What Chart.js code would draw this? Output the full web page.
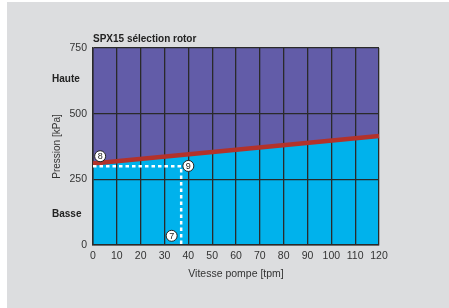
<!DOCTYPE html>
<html>
<head>
<meta charset="utf-8">
<script src="https://cdn.jsdelivr.net/npm/chart.js@4"></script>
<style>
  body { margin: 0; background: #fff; width: 449px; height: 308px; overflow: hidden; position: relative; }
  #panel { position: absolute; left: 7px; top: 2px; width: 442px; height: 306px; background: #dcdddf; }
  canvas { display: block; }
</style>
</head>
<body>
<div id="panel"><canvas id="chart" width="442" height="306"></canvas></div>
<script>
// Chart data
const speedLimits = [0, 120];           // Vitesse pompe [tpm]
const pressureLimits = [310, 415];      // limit line haute / basse [kPa]
const pressureTicks = [0, 250, 500, 750];

// Selection example (dashed path)
const pathSpeed = [0, 37, 37];
const pathPressure = [300, 300, 0];

// Numbered markers
const markerLabels = ['8', '9', '7'];
const markerSpeed = [3, 40, 33];
const markerPressure = [338, 301, 35];

// Zone labels
const zoneLabels = ['Haute', 'Basse'];
const zonePressure = [630, 118];

const FONT = '"Liberation Sans", Arial, sans-serif';

const limitPoints = speedLimits.map((s, i) => ({ x: s, y: pressureLimits[i] }));

// Draws limit line, title, zone labels, dashed path and markers on top
const overlayPlugin = {
    id: 'overlay',
    afterDraw(chart) {
        const ctx = chart.ctx;
        const xs = chart.scales.x;
        const ys = chart.scales.y;
        const area = chart.chartArea;
        ctx.save();

        // Limit line over the grid
        ctx.strokeStyle = '#b3322a';
        ctx.lineWidth = 4.5;
        ctx.beginPath();
        limitPoints.forEach((p, i) => {
            const px = xs.getPixelForValue(p.x);
            const py = ys.getPixelForValue(p.y);
            if (i === 0) ctx.moveTo(px, py); else ctx.lineTo(px, py);
        });
        ctx.stroke();

        // Title
        ctx.fillStyle = '#222';
        ctx.font = 'bold 10px ' + FONT;
        ctx.textAlign = 'left';
        ctx.textBaseline = 'bottom';
        ctx.fillText('SPX15 sélection rotor', area.left, area.top - 4);

        // Zone labels
        ctx.font = 'bold 10px ' + FONT;
        ctx.textBaseline = 'middle';
        zoneLabels.forEach((label, i) => {
            ctx.fillText(label, 45, ys.getPixelForValue(zonePressure[i]));
        });

        // Dashed path
        ctx.strokeStyle = '#fff';
        ctx.lineWidth = 2.5;
        ctx.setLineDash([3.5, 3]);
        ctx.beginPath();
        pathSpeed.forEach((s, i) => {
            const px = xs.getPixelForValue(s);
            const py = ys.getPixelForValue(pathPressure[i]);
            if (i === 0) ctx.moveTo(px, py); else ctx.lineTo(px, py);
        });
        ctx.stroke();
        ctx.setLineDash([]);

        // Markers
        markerLabels.forEach((label, i) => {
            const px = xs.getPixelForValue(markerSpeed[i]);
            const py = ys.getPixelForValue(markerPressure[i]);
            ctx.beginPath();
            ctx.arc(px, py, 5.5, 0, Math.PI * 2);
            ctx.fillStyle = '#fff';
            ctx.fill();
            ctx.lineWidth = 1;
            ctx.strokeStyle = '#222';
            ctx.stroke();
            ctx.fillStyle = '#222';
            ctx.font = '9px ' + FONT;
            ctx.textAlign = 'center';
            ctx.textBaseline = 'middle';
            ctx.fillText(label, px, py + 0.5);
        });
        ctx.restore();
    }
};

new Chart(document.getElementById('chart'), {
    type: 'line',
    data: {
        datasets: [
            {
                // upper zone (Haute)
                data: limitPoints,
                fill: 'end',
                backgroundColor: '#625ca8',
                borderWidth: 0,
                pointRadius: 0
            },
            {
                // lower zone (Basse)
                data: limitPoints,
                fill: 'origin',
                backgroundColor: '#00b2ec',
                borderWidth: 0,
                pointRadius: 0
            }
        ]
    },
    options: {
        responsive: false,
        animation: false,
        layout: { padding: { left: 44, right: 70, top: 46, bottom: 24 } },
        plugins: {
            legend: { display: false },
            tooltip: { enabled: false }
        },
        scales: {
            x: {
                type: 'linear',
                min: 0,
                max: 120,
                afterFit: scale => { scale.height = 39; },
                ticks: { stepSize: 10, color: '#333', font: { family: FONT, size: 10.5 }, padding: 5 },
                grid: { color: '#2a2a2a', lineWidth: 1.3, drawTicks: false, z: 1 },
                border: { color: '#2a2a2a', width: 1.5, z: 1 },
                title: { display: true, text: 'Vitesse pompe [tpm]', color: '#333', font: { family: FONT, size: 10.5 }, padding: { top: 1 } }
            },
            y: {
                min: 0,
                max: 750,
                afterFit: scale => { scale.width = 42; },
                afterBuildTicks: scale => { scale.ticks = pressureTicks.map(v => ({ value: v })); },
                ticks: { color: '#333', font: { family: FONT, size: 10.5 }, padding: 6 },
                grid: { color: '#2a2a2a', lineWidth: 1.3, drawTicks: false, z: 1 },
                border: { color: '#2a2a2a', width: 1.5, z: 1 },
                title: { display: true, text: 'Pression [kPa]', color: '#333', font: { family: FONT, size: 10 }, padding: 0 }
            }
        }
    },
    plugins: [overlayPlugin]
});
</script>
</body>
</html>
